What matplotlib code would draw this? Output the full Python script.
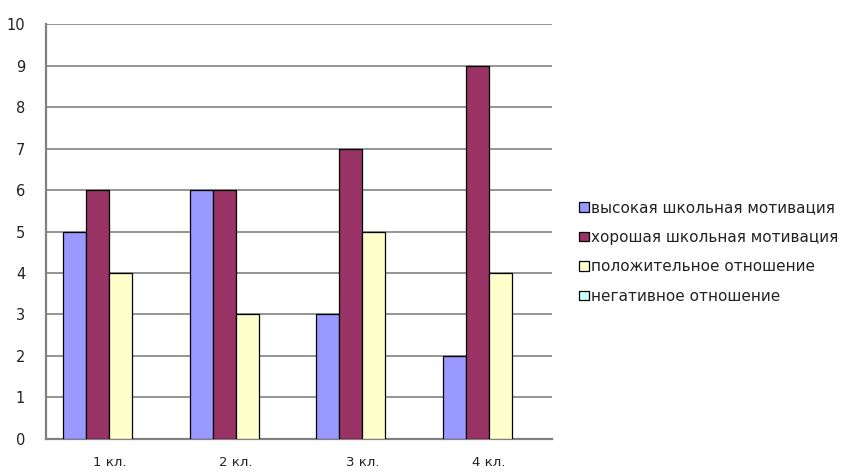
import matplotlib.pyplot as plt
from matplotlib.patches import Patch
import numpy as np

plt.rcParams['font.family'] = ['DejaVu Sans']

classes = ['1 кл.', '2 кл.', '3 кл.', '4 кл.']
series_names = ['высокая школьная мотивация', 'хорошая школьная мотивация',
                'положительное отношение', 'негативное отношение']
high = [5, 6, 3, 2]
good = [6, 6, 7, 9]
positive = [4, 3, 5, 4]
negative = [0, 0, 0, 0]
colors = ['#9999FF', '#993366', '#FFFFCC', '#CCFFFF']

fig = plt.figure(figsize=(8.52, 4.72), dpi=100)
ax = fig.add_axes([0.054, 0.07, 0.594, 0.879])

x = np.arange(len(classes))
w = 0.182
for i, (vals, c) in enumerate(zip([high, good, positive, negative], colors)):
    bars = ax.bar(x + (i - 1.5) * w, vals, w, color=c, edgecolor='black',
                  linewidth=0.9, zorder=3)
    # zero-height bars leave no outline, as in the original
    for b, v in zip(bars, vals):
        if v == 0:
            b.set_linewidth(0)

ax.set_xlim(-0.5, 3.5)
ax.set_ylim(0, 10)
ax.set_yticks(range(0, 11))
ax.set_xticks(x)
ax.set_xticklabels(classes)
ax.grid(axis='y', color='#8c8c8c', linewidth=1.3, zorder=0)
ax.set_axisbelow(True)
for s in ['top', 'right']:
    ax.spines[s].set_visible(False)
for s in ['left', 'bottom']:
    ax.spines[s].set_color('#808080')
    ax.spines[s].set_linewidth(1.6)
ax.tick_params(axis='y', length=0, labelsize=10.5, labelcolor='#222222', pad=15)
ax.tick_params(axis='x', length=0, labelsize=9.5, labelcolor='#222222', pad=12)

handles = [Patch(facecolor=c, edgecolor='black', linewidth=0.9) for c in colors]
fig.legend(handles, series_names, loc='center left', bbox_to_anchor=(0.664, 0.466),
           frameon=False, fontsize=11, handlelength=0.6, handleheight=0.6,
           handletextpad=0.15, labelspacing=0.95, labelcolor='#222222')

fig.savefig('out.png', dpi=100)
